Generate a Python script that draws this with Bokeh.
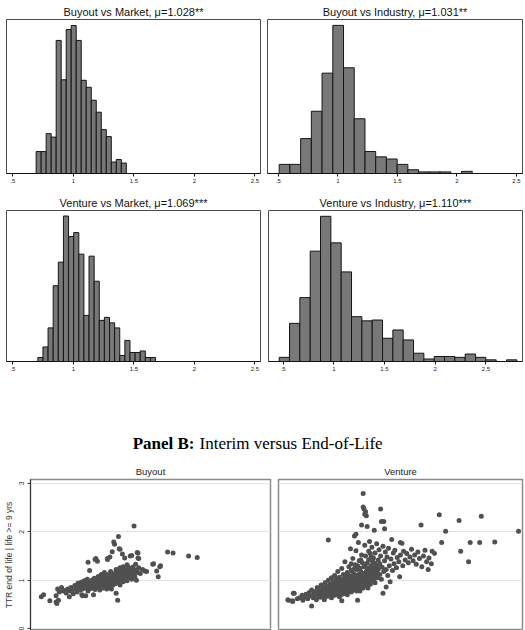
from bokeh.plotting import figure
from bokeh.layouts import column, row
from bokeh.models import ColumnDataSource, FixedTicker, Range1d, Label, Grid
from bokeh.embed import file_html
from bokeh.resources import INLINE
from bokeh.core.validation import silence
from bokeh.core.validation.warnings import MISSING_RENDERERS

silence(MISSING_RENDERERS, True)

SANS = "Liberation Sans"
SERIF = "Liberation Serif"

# ---------------- Panel A: distributions of TTR ratios (density per bin) ----------------
bm_title = "Buyout vs Market, μ=1.028**"
bm_start, bm_width = 0.693, 0.0414
bm_density = [0.44, 0.44, 0.80, 0.73, 2.67, 1.88, 2.89, 2.97, 2.67, 1.87,
              1.73, 1.47, 1.23, 0.88, 0.74, 0.23, 0.28, 0.21]

bi_title = "Buyout vs Industry, μ=1.031**"
bi_start, bi_width = 0.508, 0.09
bi_density = [0.17, 0.17, 0.65, 1.16, 1.87, 2.76, 1.97, 1.02, 0.41, 0.31,
              0.27, 0.17, 0.07, 0.03, 0.03, 0.03, 0.0, 0.04]

vm_title = "Venture vs Market, μ=1.069***"
vm_start, vm_width = 0.707, 0.0423
vm_density = [0.08, 0.29, 0.67, 1.51, 1.98, 2.90, 2.49, 2.57, 2.14, 0.92,
              2.10, 1.60, 0.82, 0.88, 0.77, 0.67, 0.12, 0.42, 0.18, 0.18,
              0.21, 0.08, 0.08]

vi_title = "Venture vs Industry, μ=1.110***"
vi_start, vi_width = 0.4605, 0.102
vi_density = [0.05, 0.46, 0.77, 1.33, 1.75, 1.43, 1.08, 0.54, 0.49, 0.50,
              0.28, 0.38, 0.26, 0.10, 0.03, 0.06, 0.06, 0.05, 0.09, 0.05,
              0.02, 0.0, 0.02]

hist_ticks = [0.5, 1, 1.5, 2, 2.5]
hist_tick_labels = [".5", "1", "1.5", "2", "2.5"]

# ---------------- Panel B: interim TTR (x) vs end-of-life TTR (y) ----------------
buyout_pts = [
    (0.10, 0.66), (0.13, 0.70), (0.21, 0.58), (0.29, 0.55), (0.30, 0.52), (0.32, 0.59),
    (0.29, 0.68), (0.31, 0.82), (0.33, 0.76), (0.36, 0.85), (0.38, 0.78), (0.40, 0.79),
    (0.42, 0.74), (0.44, 0.82), (0.46, 0.66), (0.47, 0.78), (0.48, 0.85), (0.50, 0.80),
    (0.51, 0.72), (0.53, 0.89), (0.55, 0.83), (0.56, 0.76), (0.57, 0.94), (0.58, 0.87),
    (0.60, 0.80), (0.61, 0.96), (0.62, 0.70), (0.63, 0.68), (0.64, 0.88), (0.65, 0.99),
    (0.66, 0.84), (0.67, 0.68), (0.68, 0.93), (0.69, 1.02), (0.70, 0.78), (0.70, 1.37),
    (0.71, 0.88), (0.72, 1.20), (0.72, 0.96), (0.73, 0.83), (0.74, 0.91), (0.75, 1.00),
    (0.76, 0.86), (0.77, 0.70), (0.77, 0.94), (0.78, 1.04), (0.79, 0.81), (0.80, 0.90),
    (0.80, 1.45), (0.81, 0.98), (0.82, 1.39), (0.82, 0.86), (0.83, 1.08), (0.84, 0.93),
    (0.85, 0.80), (0.85, 1.01), (0.86, 0.89), (0.87, 1.12), (0.88, 0.96), (0.88, 0.84),
    (0.89, 1.04), (0.90, 0.92), (0.91, 1.00), (0.91, 1.16), (0.92, 0.87), (0.93, 0.97),
    (0.93, 1.07), (0.94, 0.82), (0.95, 1.45), (0.95, 1.02), (0.96, 0.93), (0.96, 1.12),
    (0.97, 0.99), (0.98, 1.48), (0.98, 0.88), (0.98, 1.06), (0.99, 1.18), (1.00, 0.95),
    (1.00, 0.82), (1.01, 1.02), (1.01, 1.59), (1.02, 1.10), (1.02, 0.90), (1.03, 1.79),
    (1.03, 0.98), (1.04, 1.74), (1.04, 1.14), (1.05, 1.05), (1.05, 0.93), (1.06, 0.73),
    (1.06, 1.22), (1.07, 1.00), (1.07, 1.09), (1.08, 0.59), (1.08, 0.96), (1.09, 1.90),
    (1.09, 1.15), (1.10, 1.65), (1.10, 1.04), (1.11, 1.26), (1.11, 0.90), (1.12, 1.11),
    (1.12, 1.00), (1.13, 1.19), (1.14, 1.54), (1.14, 1.07), (1.15, 0.97), (1.15, 1.28),
    (1.16, 1.13), (1.17, 1.46), (1.17, 1.03), (1.18, 1.21), (1.19, 1.10), (1.20, 1.32),
    (1.20, 0.99), (1.21, 1.16), (1.22, 1.06), (1.23, 1.24), (1.24, 1.12), (1.25, 1.19),
    (1.26, 1.51), (1.26, 1.02), (1.27, 1.27), (1.28, 1.14), (1.29, 2.12), (1.29, 1.21),
    (1.30, 1.08), (1.31, 1.33), (1.32, 1.00), (1.33, 1.21), (1.33, 1.16), (1.34, 1.56),
    (1.34, 1.46), (1.35, 1.26), (1.37, 1.14), (1.40, 1.22), (1.43, 1.19), (1.45, 1.18),
    (1.53, 1.33), (1.54, 1.34), (1.58, 1.19), (1.60, 1.07), (1.62, 1.28), (1.63, 1.30),
    (1.72, 1.58), (1.79, 1.56), (1.99, 1.50), (2.10, 1.47),
    (0.60, 0.88), (0.63, 0.82), (0.66, 0.92), (0.69, 0.86), (0.72, 0.90), (0.74, 0.96),
    (0.76, 0.92), (0.78, 0.86), (0.80, 0.96), (0.82, 1.02), (0.84, 0.88), (0.86, 0.98),
    (0.88, 1.04), (0.90, 0.98), (0.92, 1.08), (0.94, 0.94), (0.96, 1.04), (0.98, 1.10),
    (1.00, 1.02), (1.02, 1.06), (1.04, 0.98), (1.06, 1.10), (1.08, 1.04), (1.10, 1.12),
    (1.12, 1.06), (1.14, 1.16), (1.16, 1.08), (1.18, 1.14), (1.20, 1.22), (1.22, 1.12),
    (1.24, 1.20), (1.26, 1.14), (1.28, 1.24), (1.30, 1.18), (0.87, 0.92), (0.93, 1.02),
    (0.99, 0.98), (1.05, 1.00), (1.11, 1.08), (1.17, 1.12), (1.23, 1.16), (0.75, 0.84),
    (0.81, 0.92), (0.89, 0.84), (0.97, 0.90), (1.03, 1.12), (1.09, 1.22), (1.15, 1.22),
    (1.21, 1.28), (1.27, 1.08), (0.79, 1.43), (0.95, 1.43), (1.11, 1.64), (1.24, 1.50),
    (1.33, 1.57), (1.35, 1.45),
]

venture_pts = [
    (0.08, 0.60), (0.09, 0.59), (0.14, 0.58), (0.14, 0.56), (0.15, 0.73), (0.16, 0.73),
    (0.20, 0.62), (0.23, 0.64), (0.26, 0.69), (0.27, 0.59), (0.29, 0.66), (0.31, 0.71),
    (0.33, 0.62), (0.35, 0.75), (0.36, 0.68), (0.38, 0.47), (0.38, 0.80), (0.40, 0.64),
    (0.41, 0.72), (0.43, 0.77), (0.44, 0.60), (0.45, 0.85), (0.46, 0.69), (0.47, 0.74),
    (0.48, 0.81), (0.49, 0.65), (0.50, 0.90), (0.51, 0.77), (0.52, 0.70), (0.53, 0.84),
    (0.54, 0.60), (0.55, 0.95), (0.55, 0.74), (0.56, 0.88), (0.57, 0.80), (0.58, 0.67),
    (0.59, 1.83), (0.59, 1.00), (0.60, 0.85), (0.60, 0.72), (0.61, 0.92), (0.62, 0.78),
    (0.63, 1.05), (0.63, 0.64), (0.64, 0.88), (0.65, 0.97), (0.65, 0.75), (0.66, 0.83),
    (0.67, 1.10), (0.67, 0.69), (0.68, 0.92), (0.69, 0.80), (0.69, 1.02), (0.70, 0.87),
    (0.70, 0.74), (0.71, 1.18), (0.72, 0.96), (0.72, 0.82), (0.73, 1.06), (0.73, 0.66),
    (0.74, 0.90), (0.75, 1.00), (0.75, 0.78), (0.76, 0.58), (0.76, 1.24), (0.77, 0.86),
    (0.77, 0.95), (0.78, 1.12), (0.78, 0.72), (0.79, 1.03), (0.79, 0.84), (0.80, 0.92),
    (0.80, 1.38), (0.81, 0.78), (0.81, 1.08), (0.82, 0.98), (0.82, 0.88), (0.83, 1.16),
    (0.83, 0.70), (0.84, 1.02), (0.84, 0.94), (0.85, 0.83), (0.85, 1.28), (0.86, 1.10),
    (0.86, 0.90), (0.87, 1.65), (0.87, 0.99), (0.88, 0.76), (0.88, 1.20), (0.89, 1.05),
    (0.89, 0.87), (0.90, 0.95), (0.90, 1.45), (0.91, 1.14), (0.91, 0.80), (0.92, 1.91),
    (0.92, 1.01), (0.93, 0.91), (0.93, 1.32), (0.94, 1.95), (0.94, 1.61), (0.94, 1.08),
    (0.95, 0.85), (0.95, 1.22), (0.96, 0.59), (0.96, 0.98), (0.97, 1.12), (0.97, 1.78),
    (0.98, 0.90), (0.98, 1.40), (0.99, 1.05), (0.99, 0.78), (1.00, 1.18), (1.00, 0.95),
    (1.01, 2.14), (1.01, 1.52), (1.02, 1.10), (1.02, 0.88), (1.03, 2.79), (1.03, 1.01),
    (1.03, 2.51), (1.04, 1.28), (1.04, 2.47), (1.05, 0.94), (1.05, 2.36), (1.05, 1.72),
    (1.06, 1.14), (1.06, 2.41), (1.07, 2.33), (1.07, 1.04), (1.08, 2.11), (1.08, 1.35),
    (1.09, 0.84), (1.09, 1.20), (1.10, 1.60), (1.10, 1.00), (1.11, 1.80), (1.11, 1.12),
    (1.12, 1.26), (1.12, 0.92), (1.13, 1.08), (1.13, 1.48), (1.14, 1.68), (1.14, 1.17),
    (1.15, 1.02), (1.15, 1.38), (1.16, 1.24), (1.17, 2.03), (1.17, 1.10), (1.18, 1.56),
    (1.18, 0.95), (1.19, 1.30), (1.20, 1.16), (1.20, 1.75), (1.21, 1.05), (1.22, 1.42),
    (1.22, 1.22), (1.23, 1.63), (1.24, 1.12), (1.24, 1.34), (1.25, 2.47), (1.25, 1.50),
    (1.26, 2.21), (1.26, 1.02), (1.27, 1.27), (1.28, 0.73), (1.28, 1.70), (1.29, 2.21),
    (1.29, 1.18), (1.30, 2.06), (1.30, 1.40), (1.31, 1.58), (1.32, 0.86), (1.32, 1.22),
    (1.33, 1.48), (1.34, 1.10), (1.35, 1.66), (1.36, 1.30), (1.37, 0.97), (1.38, 1.44),
    (1.39, 1.84), (1.40, 1.20), (1.41, 1.56), (1.42, 1.34), (1.43, 1.62), (1.45, 1.26),
    (1.46, 1.47), (1.48, 1.38), (1.49, 1.07), (1.50, 1.78), (1.50, 1.52), (1.52, 1.76),
    (1.53, 1.30), (1.54, 1.60), (1.56, 1.42), (1.58, 1.55), (1.60, 1.36), (1.62, 1.48),
    (1.64, 1.64), (1.66, 1.40), (1.68, 1.52), (1.70, 1.33), (1.72, 1.58), (1.74, 1.45),
    (1.76, 2.14), (1.77, 1.28), (1.79, 1.50), (1.81, 1.62), (1.83, 1.38), (1.85, 1.22),
    (1.86, 1.46), (1.89, 1.34), (1.90, 1.60), (1.93, 1.55), (1.99, 2.35), (2.02, 1.78),
    (2.07, 2.01), (2.24, 2.23), (2.26, 1.60), (2.36, 1.38), (2.38, 1.78), (2.50, 1.78),
    (2.52, 2.32), (2.69, 1.79), (2.99, 2.01),
    (0.62, 0.86), (0.64, 0.80), (0.66, 0.92), (0.68, 0.86), (0.70, 0.98), (0.71, 0.80),
    (0.73, 0.92), (0.74, 0.84), (0.76, 0.98), (0.77, 0.78), (0.78, 0.90), (0.80, 0.86),
    (0.81, 1.00), (0.82, 0.76), (0.83, 0.93), (0.84, 0.86), (0.85, 1.05), (0.86, 0.79),
    (0.87, 0.92), (0.88, 1.02), (0.89, 0.96), (0.90, 0.84), (0.91, 1.06), (0.92, 0.94),
    (0.93, 0.86), (0.94, 1.00), (0.95, 1.10), (0.96, 0.92), (0.97, 0.84), (0.98, 1.02),
    (0.99, 0.96), (1.00, 1.08), (1.01, 0.90), (1.02, 1.00), (1.03, 1.14), (1.04, 0.96),
    (1.05, 1.06), (1.06, 0.90), (1.07, 1.18), (1.08, 1.00), (1.09, 1.08), (1.10, 0.94),
    (1.11, 1.02), (1.12, 1.16), (1.13, 0.98), (1.14, 1.08), (1.16, 1.00), (1.17, 1.18),
    (1.19, 1.06), (1.21, 1.14), (0.72, 0.74), (0.75, 0.70), (0.79, 0.74), (0.83, 0.80),
    (0.87, 0.84), (0.91, 0.88), (0.95, 0.78), (0.99, 0.86), (1.03, 0.84), (1.07, 0.96),
    (0.58, 0.78), (0.61, 0.70), (0.64, 0.72), (0.67, 0.78), (0.69, 0.70), (0.52, 0.82),
    (0.50, 0.74), (0.47, 0.66), (0.43, 0.70), (0.55, 0.67), (0.96, 1.30), (0.99, 1.25),
    (1.02, 1.36), (1.05, 1.30), (1.08, 1.24), (1.10, 1.42), (1.13, 1.30), (1.16, 1.46),
    (0.92, 1.24), (0.88, 1.34), (1.00, 1.42), (1.06, 1.50), (1.12, 1.55), (1.18, 1.35),
    (1.21, 1.28),
]

scatter_ticks = [0, 1, 2, 3]
scatter_ylabel = "TTR end of life | life >= 9 yrs"
panel_b_bold = "Panel B:"
panel_b_rest = "Interim versus End-of-Life"

BAR_FILL = "#787878"
BAR_LINE = "#151515"
DOT = "#505050"


def histogram(title, start, width, density, xr, ytop, w, h, left, right, top, bottom):
    lefts = [start + i * width for i in range(len(density))]
    src = ColumnDataSource(dict(left=lefts,
                                right=[l + width for l in lefts],
                                top=density))
    p = figure(width=w, height=h, toolbar_location=None, output_backend="svg",
               x_range=Range1d(*xr), y_range=Range1d(0, ytop),
               y_axis_location=None,
               min_border_left=left, min_border_right=right,
               min_border_top=top, min_border_bottom=bottom)
    p.grid.visible = False
    p.quad(left="left", right="right", top="top", bottom=0, source=src,
           fill_color=BAR_FILL, line_color=BAR_LINE, line_width=1)
    p.title.text = title
    p.title.align = "center"
    p.title.text_font = SANS
    p.title.text_font_size = "11px"
    p.title.text_font_style = "normal"
    p.title.text_color = "#111111"
    p.title.standoff = 4
    ax = p.xaxis[0]
    ax.ticker = FixedTicker(ticks=hist_ticks)
    ax.major_label_overrides = dict(zip(hist_ticks, hist_tick_labels))
    ax.major_label_text_font = SANS
    ax.major_label_text_font_size = "6px"
    ax.major_label_text_color = "#222222"
    ax.major_label_standoff = 2
    ax.major_tick_out = 3
    ax.major_tick_in = 0
    ax.minor_tick_out = 0
    ax.minor_tick_in = 0
    ax.axis_line_color = "#111111"
    ax.major_tick_line_color = "#111111"
    p.outline_line_color = "#4a4a4a"
    p.outline_line_width = 1
    p.background_fill_color = "white"
    p.border_fill_color = "white"
    return p


h1 = histogram(bm_title, bm_start, bm_width, bm_density, (0.448, 2.547), 3.09,
               262, 192, 6, 2, 19, 19)
h2 = histogram(bi_title, bi_start, bi_width, bi_density, (0.410, 2.550), 2.87,
               263, 192, 5, 3, 19, 19)
h3 = histogram(vm_title, vm_start, vm_width, vm_density, (0.448, 2.547), 3.01,
               262, 186, 6, 2, 16, 17)
h4 = histogram(vi_title, vi_start, vi_width, vi_density, (0.355, 2.862), 1.82,
               263, 186, 6, 3, 16, 17)

# Panel B heading
head = figure(width=525, height=82, toolbar_location=None, output_backend="svg",
              x_range=Range1d(0, 525), y_range=Range1d(0, 82),
              x_axis_location=None, y_axis_location=None,
              min_border=0, outline_line_color=None)
head.grid.visible = False
head.add_layout(Label(x=194, y=17, text=panel_b_bold, text_align="right",
                      text_baseline="middle", text_font=SERIF, text_font_size="17px",
                      text_font_style="bold", text_color="black"))
head.add_layout(Label(x=199, y=17, text=panel_b_rest, text_align="left",
                      text_baseline="middle", text_font=SERIF, text_font_size="17px",
                      text_color="black"))


def scatter_panel(title, pts, w, left, right, with_axis):
    src = ColumnDataSource(dict(x=[a for a, b in pts], y=[b for a, b in pts]))
    p = figure(width=w, height=170, toolbar_location=None, output_backend="svg",
               x_range=Range1d(-0.038, 3.04), y_range=Range1d(-0.035, 3.076),
               x_axis_location=None,
               y_axis_location="left" if with_axis else None,
               min_border_left=left, min_border_right=right,
               min_border_top=18, min_border_bottom=0)
    p.grid.visible = False
    p.add_layout(Grid(dimension=1, ticker=FixedTicker(ticks=scatter_ticks),
                      grid_line_color="#e2e2e2", grid_line_width=1))
    if with_axis:
        ax = p.yaxis[0]
        ax.ticker = FixedTicker(ticks=scatter_ticks)
        ax.major_label_orientation = "vertical"
        ax.major_label_text_font = SANS
        ax.major_label_text_font_size = "7px"
        ax.major_label_text_color = "#333333"
        ax.major_label_standoff = 3
        ax.major_tick_out = 3
        ax.major_tick_in = 0
        ax.minor_tick_out = 0
        ax.minor_tick_in = 0
        ax.axis_line_color = "#333333"
        ax.major_tick_line_color = "#333333"
        ax.axis_label = scatter_ylabel
        ax.axis_label_text_font = SANS
        ax.axis_label_text_font_size = "8.5px"
        ax.axis_label_text_font_style = "normal"
        ax.axis_label_text_color = "#333333"
        ax.axis_label_standoff = 3
    p.scatter("x", "y", source=src, size=5, fill_color=DOT, line_color=None)
    p.title.text = title
    p.title.align = "center"
    p.title.text_font = SANS
    p.title.text_font_size = "9.5px"
    p.title.text_font_style = "normal"
    p.title.text_color = "#222222"
    p.title.standoff = 6
    p.outline_line_color = "#8a8a8a"
    p.outline_line_width = 1.5
    p.background_fill_color = "white"
    p.border_fill_color = "white"
    return p


s1 = scatter_panel("Buyout", buyout_pts, 274, 27, 4, True)
s2 = scatter_panel("Venture", venture_pts, 251, 4, 3, False)

layout = column(row(h1, h2), row(h3, h4), head, row(s1, s2))

open("out.html", "w").write(file_html(layout, INLINE))
